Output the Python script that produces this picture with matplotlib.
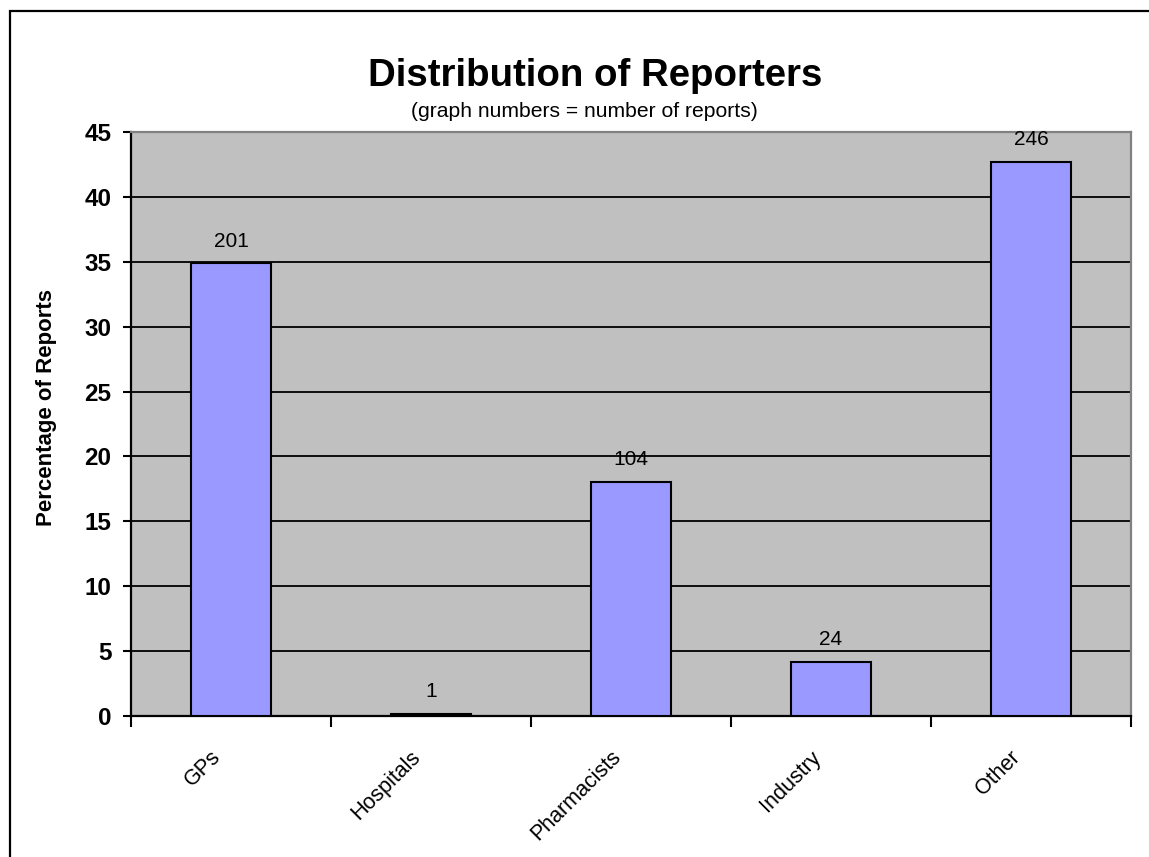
import matplotlib
matplotlib.use("Agg")
import matplotlib.pyplot as plt
from matplotlib.patches import Rectangle
from matplotlib.transforms import ScaledTranslation
import numpy as np

plt.rcParams['font.family'] = ['Liberation Sans', 'DejaVu Sans']

categories = ["GPs", "Hospitals", "Pharmacists", "Industry", "Other"]
report_counts = [201, 1, 104, 24, 246]
percentages = [34.9, 0.17, 18.06, 4.17, 42.71]
yticks = [0, 5, 10, 15, 20, 25, 30, 35, 40, 45]

W, H = 1149, 857
fig = plt.figure(figsize=(W / 100, H / 100), dpi=100)

# outer chart border (left/top visible)
fig.patches.append(Rectangle((10 / W, -0.1), 1.2, 1 - 11 / H + 0.1, transform=fig.transFigure,
                             fill=False, edgecolor='black', linewidth=1.6))

ax = fig.add_axes([131 / W, 1 - 716 / H, 1000 / W, 584 / H])
ax.set_facecolor('#C0C0C0')

x = np.arange(len(categories))
bars = ax.bar(x, percentages, width=0.4, color='#9999FF', edgecolor='black', linewidth=1.5, zorder=3)
ax.bar_label(bars, labels=[str(c) for c in report_counts], padding=9, fontsize=15, zorder=4)

ax.set_xlim(-0.5, len(categories) - 0.5)
ax.set_ylim(0, 45)
ax.set_yticks(yticks)
ax.set_yticklabels([str(t) for t in yticks], fontsize=17.5, fontweight='bold')
ax.yaxis.grid(True, color='black', linewidth=1.3, zorder=1)
ax.set_axisbelow(True)

ax.set_xticks(x)
ax.set_xticklabels(categories, rotation=45, ha='right', va='top', rotation_mode='anchor', fontsize=15.5)
ax.set_xticks(np.arange(-0.5, len(categories)), minor=True)
ax.tick_params(axis='x', which='major', length=0, pad=22)
ax.tick_params(axis='x', which='minor', length=8, width=1.5, direction='out')
ax.tick_params(axis='y', length=6, width=1.5, direction='out', pad=8)
shift = ScaledTranslation(-0.21, 0, fig.dpi_scale_trans)
for lbl in ax.get_xticklabels():
    lbl.set_transform(lbl.get_transform() + shift)

for s in ['left', 'bottom']:
    ax.spines[s].set_color('black')
    ax.spines[s].set_linewidth(1.6)
for s in ['top', 'right']:
    ax.spines[s].set_color('#808080')
    ax.spines[s].set_linewidth(1.6)

fig.text(595 / W, 1 - 86 / H, "Distribution of Reporters", ha='center', va='baseline',
         fontsize=27.6, fontweight='bold')
fig.text(584 / W, 1 - 117 / H, "(graph numbers = number of reports)", ha='center', va='baseline',
         fontsize=15.2)
fig.text(47 / W, 1 - 408 / H, "Percentage of Reports", rotation=90, ha='center', va='center',
         fontsize=16, fontweight='bold')

fig.savefig("out.png", dpi=100)
